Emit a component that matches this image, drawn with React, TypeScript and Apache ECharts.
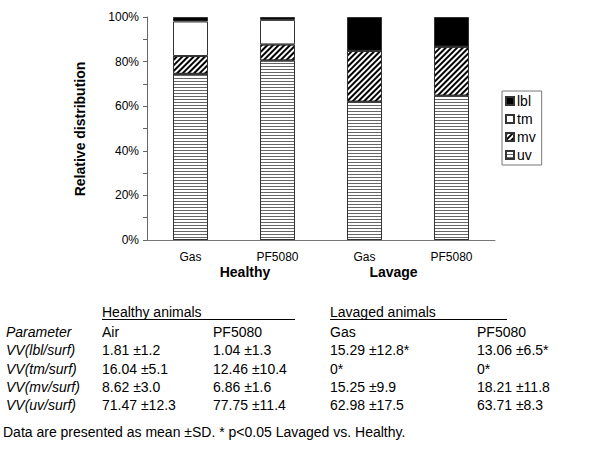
import React, { useEffect, useRef } from "react";
import * as echarts from "echarts";

const categories = ["Gas", "PF5080", "Gas", "PF5080"];
const groupLabels = ["Healthy", "Lavage"];
const uvValues = [74.5, 80.5, 62, 64.7];
const mvValues = [8, 7.2, 22.8, 22];
const tmValues = [15.5, 11, 0, 0];
const lblValues = [2, 1.3, 15.2, 13.3];
const yTickValues = [0, 20, 40, 60, 80, 100];

const tableGroups = ["Healthy animals", "Lavaged animals"];
const tableColumns = ["Air", "PF5080", "Gas", "PF5080"];
const tableRowLabels = ["VV(lbl/surf)", "VV(tm/surf)", "VV(mv/surf)", "VV(uv/surf)"];
const tableCells = [
  ["1.81 ±1.2", "1.04 ±1.3", "15.29 ±12.8*", "13.06 ±6.5*"],
  ["16.04 ±5.1", "12.46 ±10.4", "0*", "0*"],
  ["8.62 ±3.0", "6.86 ±1.6", "15.25 ±9.9", "18.21 ±11.8"],
  ["71.47 ±12.3", "77.75 ±11.4", "62.98 ±17.5", "63.71 ±8.3"],
];
const footnote = "Data are presented as mean ±SD. * p<0.05 Lavaged vs. Healthy.";

const FONT = '"Liberation Sans", Arial, sans-serif';

export default function App() {
  const ref = useRef<HTMLDivElement>(null);
  useEffect(() => {
    if (!ref.current) return;
    const chart = echarts.init(ref.current, undefined, { renderer: "svg" });

    const colX = [102, 213, 330, 477];
    const rowY = [350, 368.5, 387, 405];
    const tfont = `14px ${FONT}`;
    const graphics: any[] = [];
    graphics.push({
      type: "text",
      x: 80,
      y: 129,
      rotation: Math.PI / 2,
      style: { text: "Relative distribution", font: `bold 14px ${FONT}`, fill: "#000", align: "center", verticalAlign: "middle" },
    });
    const groupX = [245, 393.5];
    groupLabels.forEach((g, i) =>
      graphics.push({
        type: "text",
        x: groupX[i],
        y: 272,
        style: { text: g, font: `bold 14px ${FONT}`, fill: "#000", align: "center", verticalAlign: "middle" },
      })
    );
    const groupLine = [
      [102, 295],
      [330, 507],
    ];
    tableGroups.forEach((g, i) => {
      graphics.push({
        type: "text",
        x: groupLine[i][0],
        y: 312,
        style: { text: g, font: tfont, fill: "#000", align: "left", verticalAlign: "middle" },
      });
      graphics.push({
        type: "line",
        shape: { x1: groupLine[i][0], y1: 319.5, x2: groupLine[i][1], y2: 319.5 },
        style: { stroke: "#000", lineWidth: 1 },
      });
    });
    graphics.push({
      type: "text",
      x: 6,
      y: 331.5,
      style: { text: "Parameter", font: `italic ${tfont}`, fill: "#000", align: "left", verticalAlign: "middle" },
    });
    tableColumns.forEach((c, i) =>
      graphics.push({
        type: "text",
        x: colX[i],
        y: 331.5,
        style: { text: c, font: tfont, fill: "#000", align: "left", verticalAlign: "middle" },
      })
    );
    tableRowLabels.forEach((r, j) => {
      graphics.push({
        type: "text",
        x: 6,
        y: rowY[j],
        style: { text: r, font: `italic ${tfont}`, fill: "#000", align: "left", verticalAlign: "middle" },
      });
      tableCells[j].forEach((v, i) =>
        graphics.push({
          type: "text",
          x: colX[i],
          y: rowY[j],
          style: { text: v, font: tfont, fill: "#000", align: "left", verticalAlign: "middle" },
        })
      );
    });
    graphics.push({
      type: "text",
      x: 3,
      y: 432,
      style: { text: footnote, font: tfont, fill: "#000", align: "left", verticalAlign: "middle" },
    });

    const border = { borderColor: "#333", borderWidth: 1 };
    chart.setOption({
      animation: false,
      backgroundColor: "#fff",
      textStyle: { fontFamily: FONT },
      grid: { left: 147, right: 105, top: 17, bottom: 215, containLabel: false },
      legend: {
        data: ["lbl", "tm", "mv", "uv"],
        orient: "vertical",
        left: 502,
        top: 91,
        width: 42,
        itemWidth: 8,
        itemHeight: 8,
        itemGap: 4,
        padding: [3, 6, 3, 3],
        borderColor: "#777",
        borderWidth: 1,
        icon: "rect",
        textStyle: { fontSize: 14, color: "#000", fontFamily: FONT, padding: [0, 0, 0, -2] },
      },
      xAxis: {
        type: "category",
        data: categories,
        axisLine: { lineStyle: { color: "#777", width: 1 } },
        axisTick: { show: false },
        axisLabel: { fontSize: 12, color: "#000", margin: 11, fontFamily: FONT },
      },
      yAxis: {
        type: "value",
        min: yTickValues[0],
        max: yTickValues[yTickValues.length - 1],
        interval: 20,
        axisLine: { show: true, lineStyle: { color: "#666", width: 1 } },
        axisTick: { show: true, inside: false, length: 4, lineStyle: { color: "#666" } },
        minorTick: { show: true, splitNumber: 2, length: 4, lineStyle: { color: "#666" } },
        splitLine: { show: false },
        axisLabel: { fontSize: 12, color: "#000", margin: 8, formatter: "{value}%", fontFamily: FONT },
      },
      series: [
        {
          name: "uv",
          type: "bar",
          stack: "a",
          data: uvValues,
          barWidth: 35,
          itemStyle: {
            color: "#fff",
            ...border,
            decal: { symbol: "rect", symbolSize: 1, dashArrayX: [1, 0], dashArrayY: [1, 2], rotation: 0, color: "#666" },
          },
        },
        {
          name: "mv",
          type: "bar",
          stack: "a",
          data: mvValues,
          barWidth: 35,
          itemStyle: {
            color: "#fff",
            ...border,
            decal: { symbol: "rect", symbolSize: 1, dashArrayX: [1, 0], dashArrayY: [2, 2], rotation: -Math.PI / 4, color: "#000" },
          },
        },
        {
          name: "tm",
          type: "bar",
          stack: "a",
          data: tmValues,
          barWidth: 35,
          itemStyle: { color: "#fff", ...border },
        },
        {
          name: "lbl",
          type: "bar",
          stack: "a",
          data: lblValues,
          barWidth: 35,
          itemStyle: { color: "#000", ...border },
        },
      ],
      graphic: graphics,
    });
    return () => chart.dispose();
  }, []);
  return <div ref={ref} style={{ position: "fixed", left: 0, top: 0, width: 600, height: 455 }} />;
}
